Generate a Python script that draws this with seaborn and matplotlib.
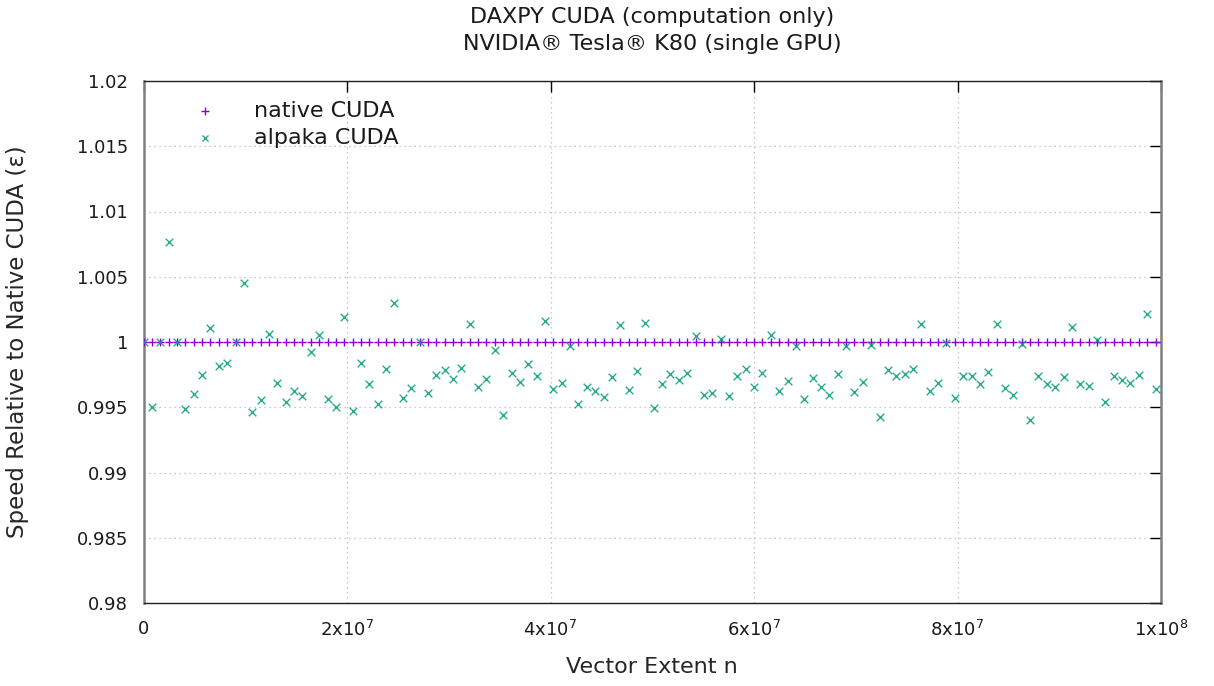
import matplotlib
matplotlib.use("Agg")
import matplotlib.pyplot as plt
import seaborn as sns
import pandas as pd

title_lines = ["DAXPY CUDA (computation only)", "NVIDIA® Tesla® K80 (single GPU)"]
x_label = "Vector Extent n"
y_label = "Speed Relative to Native CUDA (ε)"
series_names = ["native CUDA", "alpaka CUDA"]

vector_extent = [
    0, 822000, 1644000, 2466000, 3288000, 4110000, 4932000, 5754000, 6576000, 7398000,
    8220000, 9042000, 9864000, 10686000, 11508000, 12330000, 13152000, 13974000, 14796000, 15618000,
    16440000, 17262000, 18084000, 18906000, 19728000, 20550000, 21372000, 22194000, 23016000, 23838000,
    24660000, 25482000, 26304000, 27126000, 27948000, 28770000, 29592000, 30414000, 31236000, 32058000,
    32880000, 33702000, 34524000, 35346000, 36168000, 36990000, 37812000, 38634000, 39456000, 40278000,
    41100000, 41922000, 42744000, 43566000, 44388000, 45210000, 46032000, 46854000, 47676000, 48498000,
    49320000, 50142000, 50964000, 51786000, 52608000, 53430000, 54252000, 55074000, 55896000, 56718000,
    57540000, 58362000, 59184000, 60006000, 60828000, 61650000, 62472000, 63294000, 64116000, 64938000,
    65760000, 66582000, 67404000, 68226000, 69048000, 69870000, 70692000, 71514000, 72336000, 73158000,
    73980000, 74802000, 75624000, 76446000, 77268000, 78090000, 78912000, 79734000, 80556000, 81378000,
    82200000, 83022000, 83844000, 84666000, 85488000, 86310000, 87132000, 87954000, 88776000, 89598000,
    90420000, 91242000, 92064000, 92886000, 93708000, 94530000, 95352000, 96174000, 96996000, 97818000,
    98640000, 99462000,
]

native_speed = [1.0] * len(vector_extent)

alpaka_speed = [
    1.0, 0.99505, 1.0, 1.00768, 1.0, 0.99485, 0.99602, 0.99747, 1.00105, 0.99819,
    0.99842, 1.0, 1.00449, 0.99464, 0.99559, 1.00059, 0.99689, 0.99538, 0.99622, 0.99589,
    0.99921, 1.00054, 0.99566, 0.99500, 1.00189, 0.99472, 0.99837, 0.99676, 0.99526, 0.99791,
    1.00298, 0.99574, 0.99645, 1.0, 0.99610, 0.99747, 0.99783, 0.99719, 0.99798, 1.00138,
    0.99653, 0.99719, 0.99941, 0.99441, 0.99763, 0.99691, 0.99829, 0.99740, 1.00161, 0.99638,
    0.99689, 0.99972, 0.99523, 0.99653, 0.99625, 0.99582, 0.99732, 1.00133, 0.99633, 0.99776,
    1.00145, 0.99492, 0.99676, 0.99755, 0.99709, 0.99763, 1.00046, 0.99594, 0.99610, 1.00020,
    0.99589, 0.99740, 0.99791, 0.99658, 0.99763, 1.00054, 0.99625, 0.99704, 0.99972, 0.99566,
    0.99724, 0.99653, 0.99597, 0.99755, 0.99972, 0.99617, 0.99696, 0.99980, 0.99426, 0.99783,
    0.99740, 0.99755, 0.99791, 1.00138, 0.99625, 0.99689, 0.99995, 0.99574, 0.99740, 0.99740,
    0.99676, 0.99770, 1.00138, 0.99645, 0.99597, 0.99987, 0.99406, 0.99740, 0.99676, 0.99653,
    0.99732, 1.00117, 0.99676, 0.99661, 1.00018, 0.99543, 0.99740, 0.99712, 0.99689, 0.99747,
    1.00217, 0.99638,
]

x_ticks = [0, 2e7, 4e7, 6e7, 8e7, 1e8]
x_tick_labels = ["0", r"2x10$^{7}$", r"4x10$^{7}$", r"6x10$^{7}$", r"8x10$^{7}$", r"1x10$^{8}$"]
y_ticks = [0.98, 0.985, 0.99, 0.995, 1.0, 1.005, 1.01, 1.015, 1.02]
y_tick_labels = ["0.98", "0.985", "0.99", "0.995", "1", "1.005", "1.01", "1.015", "1.02"]

sns.set_style("white")
plt.rcParams["font.family"] = ["DejaVu Sans"]
plt.rcParams["mathtext.default"] = "regular"
plt.rcParams["text.color"] = "#1a1a1a"

fig = plt.figure(figsize=(12.14, 6.86), dpi=100)
ax = fig.add_axes([143.5 / 1214, 1 - 603 / 686, 1017.5 / 1214, 522 / 686])

df_native = pd.DataFrame({"n": vector_extent, "speed": native_speed})
df_alpaka = pd.DataFrame({"n": vector_extent, "speed": alpaka_speed})

sns.scatterplot(data=df_native, x="n", y="speed", ax=ax, marker="+", color="#9400D3",
                s=40, linewidth=1.0, label=series_names[0], zorder=3)
sns.scatterplot(data=df_alpaka, x="n", y="speed", ax=ax, marker="x", color="#009E73",
                s=30, linewidth=1.0, label=series_names[1], alpha=0.85, zorder=4)

ax.set_xlim(0, 1e8)
ax.set_ylim(0.98, 1.02)
ax.set_xticks(x_ticks)
ax.set_xticklabels(x_tick_labels)
ax.set_yticks(y_ticks)
ax.set_yticklabels(y_tick_labels)
ax.tick_params(direction="in", length=8, width=1, top=True, right=True,
               labelsize=13, colors="black", labelcolor="#1a1a1a")
ax.tick_params(axis="y", pad=11)
ax.tick_params(axis="x", pad=12)
ax.grid(True, color="#b8b8b8", linestyle=(0, (1, 3)), linewidth=0.9)
for name, sp in ax.spines.items():
    sp.set_visible(True)
    if name in ("left", "right"):
        sp.set_color("#808080")
        sp.set_linewidth(1.8)
    else:
        sp.set_color("#202020")
        sp.set_linewidth(1.0)

ax.set_xlabel(x_label, fontsize=16)
ax.set_ylabel(y_label, fontsize=16.5)
ax.xaxis.set_label_coords(0.5, -0.103)
ax.yaxis.set_label_coords(-0.113, 0.5)

fig.text(652 / 1214, 1 - 17 / 686, title_lines[0], ha="center", va="center", fontsize=16)
fig.text(652 / 1214, 1 - 44 / 686, title_lines[1], ha="center", va="center", fontsize=16)

ax.legend(loc="upper left", frameon=False, fontsize=16, handletextpad=1.2,
          borderaxespad=0.0, borderpad=0.0, labelspacing=0.32,
          bbox_to_anchor=(0.0388, 0.962), markerscale=0.8)

fig.savefig("out.png", dpi=100)
